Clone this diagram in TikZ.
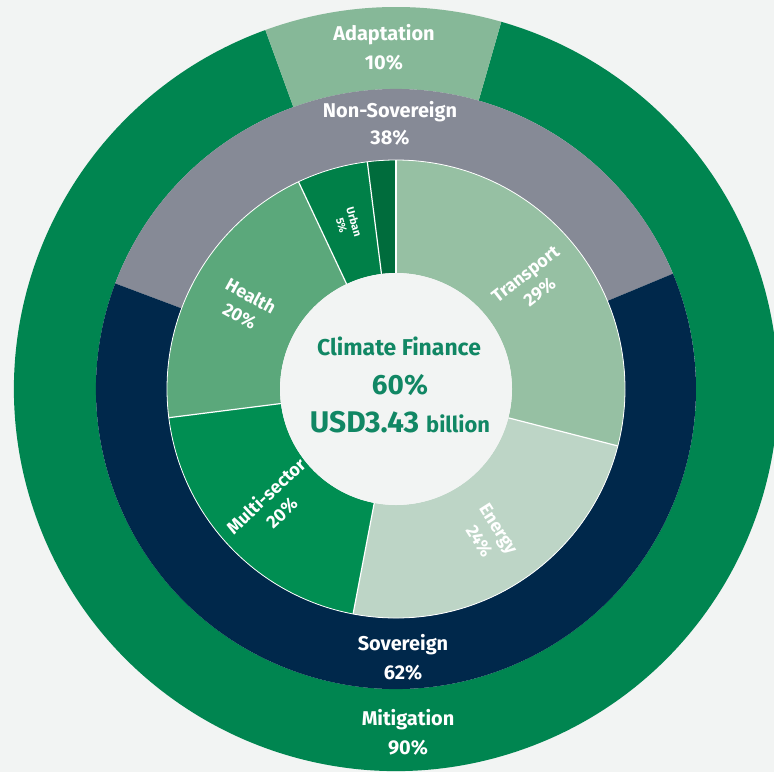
\documentclass[tikz,border=0pt]{standalone}
\usepackage{fontspec}
\setmainfont{Fira Sans}
\definecolor{bg}{HTML}{F2F4F3}
\definecolor{mitig}{HTML}{008550}
\definecolor{adapt}{HTML}{86B898}
\definecolor{nonsov}{HTML}{868A96}
\definecolor{sov}{HTML}{00284B}
\definecolor{transp}{HTML}{96C0A3}
\definecolor{energy}{HTML}{BDD5C6}
\definecolor{multi}{HTML}{008E52}
\definecolor{health}{HTML}{5BA87B}
\definecolor{urban}{HTML}{008048}
\definecolor{other}{HTML}{006C3C}
\definecolor{ctext}{HTML}{118764}
\newcommand{\annseg}[5]{\fill[#5] (#3:#2) arc[start angle=#3, end angle=#4, radius=#2] -- (#4:#1) arc[start angle=#4, end angle=#3, radius=#1] -- cycle;}
\tikzset{
  ringlabel/.style={text=white, align=center, font=\bfseries\fontsize{20}{29}\selectfont, inner sep=0pt},
  seclabel/.style={text=white, align=center, font=\bfseries\fontsize{18}{23}\selectfont, inner sep=0pt},
  smalllabel/.style={text=white, align=center, font=\bfseries\fontsize{11}{13}\selectfont, inner sep=0pt},
  centertext/.style={text=ctext, inner sep=0pt, anchor=base},
  sepline/.style={white, line width=1.2bp}
}
\begin{document}
\begin{tikzpicture}[x=1bp,y=1bp]
\useasboundingbox (0,0) rectangle (774,-772);
\fill[bg] (0,0) rectangle (774,-772);
\begin{scope}[shift={(396,-389)}]
  % outer ring: adaptation / mitigation
  \annseg{300bp}{382bp}{110}{434}{mitig}
  \annseg{300bp}{382bp}{74}{110}{adapt}
  % middle ring: sovereign / non-sovereign
  \annseg{229bp}{300bp}{22.6}{159.4}{nonsov}
  \annseg{229bp}{300bp}{159.4}{382.6}{sov}
  % inner ring: sectors
  \annseg{116bp}{229bp}{-14.4}{90}{transp}
  \annseg{116bp}{229bp}{-100.8}{-14.4}{energy}
  \annseg{116bp}{229bp}{-172.8}{-100.8}{multi}
  \annseg{116bp}{229bp}{115.2}{187.2}{health}
  \annseg{116bp}{229bp}{97.2}{115.2}{urban}
  \annseg{116bp}{229bp}{90}{97.2}{other}
  \draw[white, line width=0.8bp] (0,0) circle[radius=229bp];
  \foreach \a in {90,97.2,115.2,187.2,-100.8,-14.4}
    \draw[sepline] (\a:116bp) -- (\a:229bp);
  \node[circle, fill=bg, minimum size=232bp, inner sep=0pt] (core) at (0,0) {};
  % sector labels
  \node[seclabel, rotate=37.8] (ltransport) at (37.8:173bp) {Transport\\29\%};
  \node[seclabel, rotate=-57.6] (lenergy) at (-57.6:173bp) {Energy\\24\%};
  \node[seclabel, rotate=43.2] (lmulti) at (223.2:168bp) {Multi-sector\\20\%};
  \node[seclabel, rotate=-28.8] (lhealth) at (151.2:172bp) {Health\\20\%};
  \node[smalllabel, rotate=-73.8] (lurban) at (106.2:172bp) {Urban\\5\%};
\end{scope}
% ring labels
\node[ringlabel] (ladapt) at (384,-47) {Adaptation\\10\%};
\node[ringlabel, font=\bfseries\fontsize{20}{27}\selectfont] (lnonsov) at (390,-123.5) {Non-Sovereign\\38\%};
\node[ringlabel] (lsov) at (403,-657.5) {Sovereign\\62\%};
\node[ringlabel] (lmitig) at (408,-732.5) {Mitigation\\90\%};
% centre text
\node[centertext, font=\bfseries\fontsize{23}{23}\selectfont] (ctitle) at (399,-355) {Climate Finance};
\node[centertext, font=\bfseries\fontsize{28}{28}\selectfont] (cpct) at (400,-394) {60\%};
\node[centertext] (camount) at (400,-432) {\bfseries\fontsize{30}{30}\selectfont USD3.43 \fontsize{22}{22}\selectfont billion};
\end{tikzpicture}
\end{document}
